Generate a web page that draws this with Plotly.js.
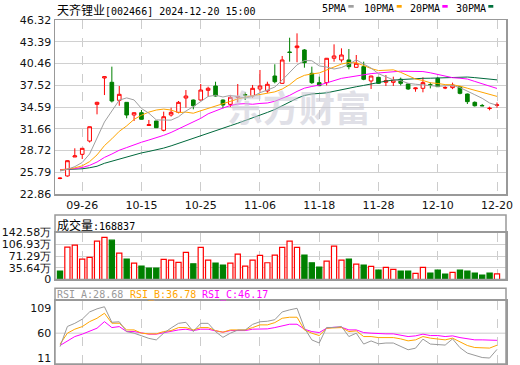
<!DOCTYPE html>
<html><head><meta charset="utf-8">
<script src="https://cdn.plot.ly/plotly-3.0.1.min.js"></script>
<style>html,body{margin:0;padding:0;background:#fff}#chart{width:520px;height:365px}</style>
</head><body><div id="chart"></div>
<script>
const dates = ['2024-09-23','2024-09-24','2024-09-25','2024-09-26','2024-09-27','2024-09-30',
'2024-10-08','2024-10-09','2024-10-10','2024-10-11','2024-10-14','2024-10-15','2024-10-16','2024-10-17','2024-10-18','2024-10-21','2024-10-22','2024-10-23','2024-10-24','2024-10-25','2024-10-28','2024-10-29','2024-10-30','2024-10-31',
'2024-11-01','2024-11-04','2024-11-05','2024-11-06','2024-11-07','2024-11-08','2024-11-11','2024-11-12','2024-11-13','2024-11-14','2024-11-15','2024-11-18','2024-11-19','2024-11-20','2024-11-21','2024-11-22','2024-11-25','2024-11-26','2024-11-27','2024-11-28','2024-11-29',
'2024-12-02','2024-12-03','2024-12-04','2024-12-05','2024-12-06','2024-12-09','2024-12-10','2024-12-11','2024-12-12','2024-12-13','2024-12-16','2024-12-17','2024-12-18','2024-12-19','2024-12-20'];

const open  = [24.95,25.29,27.85,28.21,30.0,34.95,38.5,37.92,35.49,35.22,33.51,33.82,32.1,32.7,31.45,33.51,33.87,35.8,35.53,35.53,36.84,37.42,35.53,34.95,35.9,36.25,36.07,37.02,36.75,38.77,37.78,42.0,42.59,42.28,39.13,37.87,37.87,41.16,40.93,40.93,39.94,40.03,38.1,38.59,37.92,37.92,38.33,37.69,37.05,37.11,37.6,38.46,37.15,37.2,37.33,36.34,35.22,34.8,34.38,34.82];
const high  = [25.1,27.4,29.02,29.05,31.95,35.3,38.7,40.03,37.42,35.25,33.85,34.19,32.84,32.75,33.96,34.5,35.4,36.88,35.6,37.69,37.33,38.0,35.6,36.21,37.69,36.57,37.56,39.58,38.0,40.35,41.47,43.93,44.52,42.4,40.03,38.68,41.2,43.04,42.5,42.41,41.6,40.7,38.8,38.65,38.9,38.68,38.55,37.75,37.2,38.59,37.9,38.6,37.4,37.87,37.4,36.4,35.35,35.0,34.63,35.2];
const low   = [24.85,25.2,27.85,27.58,29.8,33.6,36.2,35.2,34.76,33.07,32.7,32.9,32.1,31.75,31.3,33.3,33.74,34.5,34.28,35.5,35.98,36.0,34.41,34.6,35.22,35.53,35.85,36.65,36.5,37.78,37.7,40.7,40.62,39.89,37.7,37.4,37.5,40.7,40.6,39.67,39.9,38.2,37.02,37.7,37.42,37.42,37.5,36.9,36.65,36.57,37.1,37.3,37.0,37.0,36.3,34.99,34.65,34.7,34.14,34.5];
const close = [25.0,27.35,28.0,29.02,31.93,35.22,38.68,35.4,36.3,33.51,33.82,32.93,32.2,31.8,33.28,33.87,35.22,36.07,34.76,36.88,37.11,36.07,34.86,35.89,36.0,36.2,37.11,37.42,37.65,38.0,40.93,41.95,42.81,40.57,37.87,37.47,41.16,41.47,41.6,40.03,40.48,38.33,38.77,37.78,38.14,38.23,37.78,37.02,37.15,37.87,37.55,37.33,37.2,37.56,36.43,35.31,34.76,34.75,34.42,34.87];
const prevClose = 26.2;

const ma5  = [25.96,26.19,26.55,27.11,28.26,30.30,32.57,34.05,35.51,35.82,35.54,34.39,33.75,32.85,32.81,32.82,33.27,34.05,34.64,35.36,36.01,36.18,35.94,36.16,35.99,35.80,36.01,36.52,36.88,37.28,38.22,39.19,40.27,40.85,40.83,40.13,39.98,39.71,39.91,40.35,40.95,40.38,39.84,39.08,38.70,38.25,38.14,37.79,37.66,37.61,37.47,37.38,37.42,37.50,37.21,36.77,36.25,35.76,35.13,34.82];
const ma10 = [26.08,26.20,26.38,26.66,27.23,28.13,29.38,30.30,31.31,32.04,32.92,33.48,33.90,34.18,34.31,34.18,33.83,33.90,33.75,34.08,34.41,34.73,34.99,35.40,35.67,35.91,36.10,36.23,36.52,36.63,37.01,37.60,38.40,38.86,39.05,39.18,39.58,39.99,40.38,40.59,40.54,40.18,39.78,39.50,39.52,39.60,39.26,38.82,38.37,38.16,37.86,37.76,37.61,37.58,37.41,37.12,36.82,36.59,36.32,36.02];
const ma20 = [26.14,26.20,26.29,26.43,26.72,27.17,27.79,28.25,28.76,29.12,29.50,29.84,30.14,30.42,30.77,31.16,31.61,32.10,32.53,33.06,33.67,34.10,34.45,34.79,34.99,35.04,34.96,35.07,35.13,35.36,35.71,36.16,36.69,37.13,37.36,37.54,37.84,38.11,38.45,38.61,38.78,38.89,39.09,39.18,39.29,39.39,39.42,39.40,39.38,39.37,39.20,38.97,38.69,38.54,38.47,38.36,38.04,37.70,37.34,37.09];
const ma30 = [26.12,26.14,26.18,26.26,26.40,26.60,27.00,27.30,27.60,27.90,28.15,28.40,28.60,28.80,29.05,29.35,29.70,30.05,30.38,30.74,31.12,31.45,31.75,32.07,32.40,32.74,33.10,33.48,33.86,34.25,34.78,35.27,35.76,36.15,36.35,36.42,36.50,36.71,36.88,37.10,37.32,37.50,37.72,37.92,38.08,38.23,38.31,38.34,38.42,38.46,38.47,38.51,38.59,38.65,38.66,38.63,38.55,38.47,38.36,38.25];

const volume = [25.7,98.2,104.2,61.9,67.1,116.3,127.5,119.3,80.0,61.9,49.8,40.8,34.7,34.7,61.0,58.9,52.0,82.2,47.8,97.2,58.9,49.8,43.8,49.8,77.0,40.8,58.9,73.0,50.8,74.0,97.2,116.3,97.2,74.0,50.8,37.8,55.9,101.2,58.9,61.9,46.8,43.8,39.8,28.7,36.8,30.8,25.7,25.7,18.7,36.8,19.6,28.7,16.6,21.7,28.7,25.7,19.6,13.6,19.6,16.88];

const rsiA = [34,73,79,87,101,107,111,81,82,63,60,55,50,47,60,70,79,81,63,79,79,63,52,60,66,66,77,82,83,86,101,105,108,70,47,41,71,71,73,53.5,60,39,45,39.5,41,41,34,28,31,48.5,39,37.5,37,49,32,21.5,17,13,12,28.68];
const rsiB = [38.8,60,67.7,72.7,82.3,88.8,98.5,79.2,79.2,66.3,66.3,60,58.7,58.7,63.1,65,70.8,70.8,66.3,70.8,70.8,65,61.9,66.3,66.3,66.3,70.8,76,76,80.4,88.8,90.8,90.8,66.3,60,55.4,69.6,70.8,70.8,63.1,64.4,53.5,53.5,51.5,51.5,51.5,49,45.2,47.1,53.5,50.4,49,47.1,50.4,42.7,36.2,32.3,32.3,31.2,36.78];
const rsiC = [36.2,45.2,53.5,58.1,63.1,69.6,82.3,70.8,72.7,63.1,63.1,60,58.1,58.1,61.2,63.1,66.3,67.7,65,67.7,67.7,64.4,61.9,65,65,65,67.7,68.3,68.3,70.8,74.6,77.3,77.3,67.7,63.1,61.2,69.6,71.5,71.5,66.3,66.3,61.2,60,58.7,58.7,58.7,56.7,53.5,54.8,58.1,55.4,55.4,53.5,54.8,51.5,49,47.1,47.1,47.1,46.17];

const xTickVals = ['2024-09-26','2024-10-15','2024-10-25','2024-11-06','2024-11-18','2024-11-28','2024-12-10','2024-12-20'];
const xTickText = ['09-26','10-15','10-25','11-06','11-18','11-28','12-10','12-20'];
const priceTicks = [22.86,25.79,28.72,31.66,34.59,37.52,40.46,43.39,46.32];
const priceTickText = ['22.86','25.79','28.72','31.66','34.59','37.52','40.46','43.39','46.32'];
const volTicks = [0,35.645,71.29,106.935,142.58];
const volTickText = ['0','35.64万','71.29万','106.93万','142.58万'];
const rsiTicks = [11,60,109];
const rsiTickText = ['11','60','109'];

const title = '天齐锂业';
const code = '[002466] 2024-12-20 15:00';
const volLabel = '成交量';
const volLast = '168837';

const RED = '#ff0000', GREEN = '#008000';
const volUp = close.map((c,i)=> c >= (i===0 ? prevClose : close[i-1]));

const traces = [
  {type:'scatter', mode:'lines', x:dates, y:ma30, xaxis:'x', yaxis:'y', line:{color:'#00693c', width:1}, hoverinfo:'skip'},
  {type:'scatter', mode:'lines', x:dates, y:ma20, xaxis:'x', yaxis:'y', line:{color:'#ff00ff', width:1}, hoverinfo:'skip'},
  {type:'scatter', mode:'lines', x:dates, y:ma10, xaxis:'x', yaxis:'y', line:{color:'#ffa500', width:1}, hoverinfo:'skip'},
  {type:'scatter', mode:'lines', x:dates, y:ma5, xaxis:'x', yaxis:'y', line:{color:'#a0a0a0', width:1}, hoverinfo:'skip'},
  {type:'candlestick', x:dates, open:open, high:high, low:low, close:close, xaxis:'x', yaxis:'y',
   increasing:{line:{color:RED, width:1}, fillcolor:'#ffffff'},
   decreasing:{line:{color:GREEN, width:1}, fillcolor:GREEN}, whiskerwidth:0},
  {type:'bar', x:dates, y:volume, xaxis:'x2', yaxis:'y2',
   marker:{color: volUp.map(u=> u ? '#ffffff' : GREEN), line:{color: volUp.map(u=> u ? RED : GREEN), width:1.2}}},
  {type:'scatter', mode:'lines', x:dates, y:rsiC, xaxis:'x3', yaxis:'y3', line:{color:'#ff00ff', width:1}},
  {type:'scatter', mode:'lines', x:dates, y:rsiB, xaxis:'x3', yaxis:'y3', line:{color:'#ffa500', width:1}},
  {type:'scatter', mode:'lines', x:dates, y:rsiA, xaxis:'x3', yaxis:'y3', line:{color:'#999999', width:1}}
];

const W = 520, H = 365, L = 55, R = 14;
const px = v => (v - L) / (W - L - R);
const py = v => 1 - v / H;
const tickFont = {family:'DejaVu Sans', size:11, color:'#111'};
const xrange = [-0.675, 60.215];
const baseX = {type:'category', categoryorder:'array', categoryarray:dates, range:xrange,
  tickvals:xTickVals, ticktext:xTickText, showgrid:true, gridcolor:'#cccccc', griddash:'dash', gridwidth:1,
  showline:true, mirror:true, linecolor:'#999', linewidth:1.5, ticks:'', zeroline:false, fixedrange:true,
  tickfont:tickFont, rangeslider:{visible:false}};
const baseY = {showgrid:true, gridcolor:'#d0d0d0', gridwidth:1, showline:true, mirror:true, linecolor:'#999', linewidth:1.5,
  ticks:'', zeroline:false, tickfont:tickFont, fixedrange:true, ticklabeloverflow:'allow'};

const mono = 'DejaVu Sans Mono';
const cjk = 'Noto Sans CJK SC';
const ann = (text, x, y, color, size, family, anchor) => ({xref:'paper', yref:'paper', x:px(x), y:py(y), xanchor:anchor||'left', yanchor:'middle',
  text:text, showarrow:false, font:{family:family||mono, size:size||10, color:color||'#000'}});

const layout = {
  width:W, height:H, margin:{l:L, r:R, t:0, b:0}, paper_bgcolor:'#fff', plot_bgcolor:'#fff', showlegend:false,
  xaxis: Object.assign({}, baseX, {anchor:'y', showticklabels:true}),
  yaxis: Object.assign({}, baseY, {domain:[py(194), py(20)], range:[22.86,46.32], tickvals:priceTicks, ticktext:priceTickText}),
  xaxis2: Object.assign({}, baseX, {anchor:'y2', showticklabels:false}),
  yaxis2: Object.assign({}, baseY, {domain:[py(279.5), py(232.5)], range:[0,142.58], tickvals:volTicks, ticktext:volTickText}),
  xaxis3: Object.assign({}, baseX, {anchor:'y3', showticklabels:false}),
  yaxis3: Object.assign({}, baseY, {domain:[py(364), py(300.7)], range:[0.5,122.7], tickvals:rsiTicks, ticktext:rsiTickText, showgrid:false}),
  bargap:0.3,
  shapes:[
    {type:'rect', xref:'paper', yref:'paper', x0:0, x1:1, y0:py(279.5), y1:py(215), line:{color:'#999', width:1.5}},
    {type:'rect', xref:'paper', yref:'paper', x0:0, x1:1, y0:py(364), y1:py(288.3), line:{color:'#999', width:1.5}},
    {type:'line', xref:'paper', yref:'y3', x0:0, x1:1, y0:60, y1:60, line:{color:'#cccccc', width:1}, layer:'below'},
    {type:'rect', xref:'paper', yref:'paper', x0:px(348.3), x1:px(353.7), y0:py(7.7), y1:py(5), fillcolor:'#a0a0a0', line:{width:0}},
    {type:'rect', xref:'paper', yref:'paper', x0:px(396.7), x1:px(401.7), y0:py(7.7), y1:py(5), fillcolor:'#ffa500', line:{width:0}},
    {type:'rect', xref:'paper', yref:'paper', x0:px(442.3), x1:px(447.7), y0:py(7.7), y1:py(5), fillcolor:'#ff00ff', line:{width:0}},
    {type:'rect', xref:'paper', yref:'paper', x0:px(488.3), x1:px(493.3), y0:py(7.7), y1:py(5), fillcolor:'#00703c', line:{width:0}}
  ],
  annotations:[
    {xref:'paper', yref:'paper', x:px(299), y:py(106), xanchor:'center', yanchor:'middle', text:'<b>东方财富</b>', showarrow:false,
     font:{family:cjk, size:36, color:'#c8c8d4'}, opacity:0.55},
    ann('<span style="font-family:\'Noto Sans CJK SC\';font-size:12px">'+title+'</span>'+code, 55, 9, '#000', 10, mono),
    ann('5PMA', 320, 8, '#000', 10, mono),
    ann('10PMA', 362, 8, '#000', 10, mono),
    ann('20PMA', 408, 8, '#000', 10, mono),
    ann('30PMA', 454, 8, '#000', 10, mono),
    ann('<span style="font-family:\'Noto Sans CJK SC\';font-size:12px">'+volLabel+'</span>:'+volLast, 55, 224, '#000', 10, mono),
    ann('RSI_A:'+rsiA[rsiA.length-1].toFixed(2), 55, 294.5, '#999999', 10, mono),
    ann('RSI_B:'+rsiB[rsiB.length-1].toFixed(2), 128, 294.5, '#ffa500', 10, mono),
    ann('RSI_C:'+rsiC[rsiC.length-1].toFixed(2), 200, 294.5, '#ff00ff', 10, mono)
  ]
};

Plotly.newPlot('chart', traces, layout, {staticPlot:true, displayModeBar:false});
</script>
</body></html>
